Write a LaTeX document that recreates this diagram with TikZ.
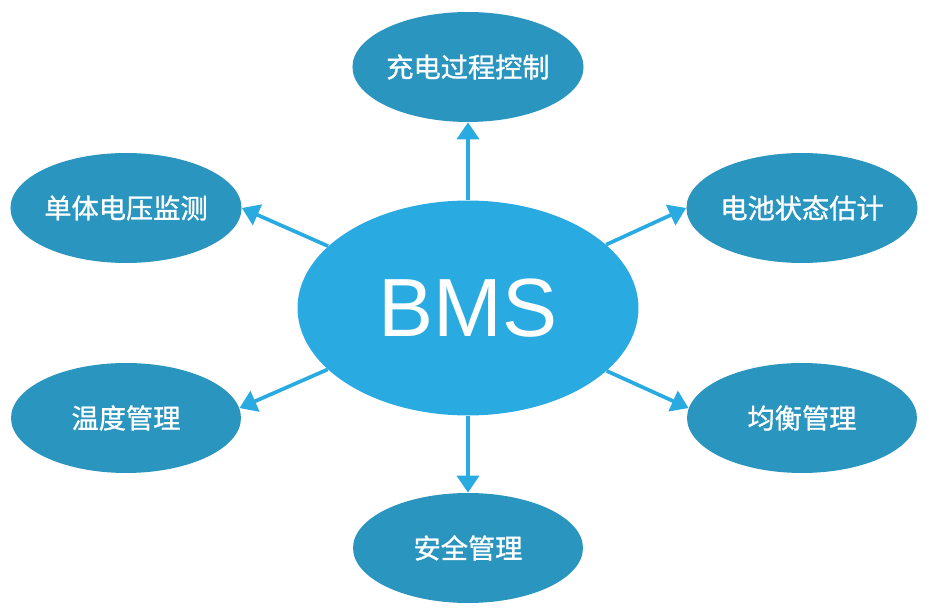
\documentclass[tikz,border=0pt]{standalone}
\usepackage{fontspec}
\setmainfont{Liberation Sans}
\newfontfamily\cjk[FakeBold=1]{Noto Sans CJK SC}
\usetikzlibrary{shapes.geometric,arrows.meta}
\definecolor{bmsblue}{HTML}{29ABE2}
\definecolor{itemblue}{HTML}{2A95BE}

\begin{document}
\begin{tikzpicture}[x=0.02cm, y=-0.02cm,
    item/.style={ellipse, fill=itemblue, text=white, inner sep=0pt, minimum width=4.6cm, minimum height=2.2cm, font=\cjk\fontsize{15.5}{18}\selectfont},
    link/.style={-{Triangle[length=0.34cm,width=0.44cm]}, draw=bmsblue, line width=2.1pt}]
    \useasboundingbox (0,0) rectangle (941,611);

    % Draw centre
    \node[ellipse, fill=bmsblue, text=white, inner sep=0pt, minimum width=6.82cm, minimum height=4.3cm, font=\fontsize{47}{50}\selectfont] (bms) at (468,308) {BMS};

    % Draw functions
    \node[item] (charge) at (468,67) {充电过程控制};
    \node[item] (cell) at (126,208) {单体电压监测};
    \node[item] (state) at (802,208) {电池状态估计};
    \node[item] (temp) at (126,418) {温度管理};
    \node[item] (balance) at (802,418) {均衡管理};
    \node[item] (safety) at (468,548) {安全管理};

    % Draw arrows
    \draw[link] (bms) -- (charge);
    \draw[link] (bms) -- (cell.east);
    \draw[link] (bms) -- (state.west);
    \draw[link] (bms) -- (temp.5);
    \draw[link] (bms) -- (balance.175);
    \draw[link] (bms) -- (safety);
\end{tikzpicture}
\end{document}
